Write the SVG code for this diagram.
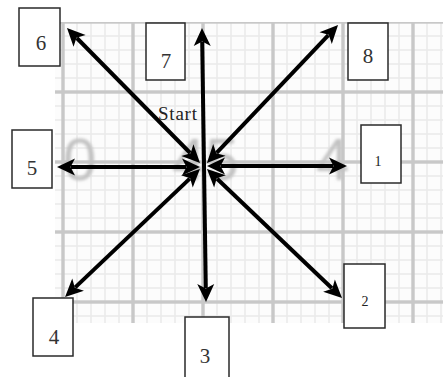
<svg xmlns="http://www.w3.org/2000/svg" width="443" height="377" viewBox="0 0 443 377">
<defs>
<pattern id="grid" patternUnits="userSpaceOnUse" x="63" y="22" width="70" height="70">
<rect width="70" height="70" fill="#fcfcfc"/>
<g stroke="#eaeaea" stroke-width="1.5">
<line x1="14" y1="0" x2="14" y2="70"/><line x1="28" y1="0" x2="28" y2="70"/><line x1="42" y1="0" x2="42" y2="70"/><line x1="56" y1="0" x2="56" y2="70"/>
<line x1="0" y1="14" x2="70" y2="14"/><line x1="0" y1="28" x2="70" y2="28"/><line x1="0" y1="42" x2="70" y2="42"/><line x1="0" y1="56" x2="70" y2="56"/>
</g>
<g fill="#c8c8c8">
<rect x="0" y="0" width="1.7" height="70"/><rect x="68.3" y="0" width="1.7" height="70"/>
<rect x="0" y="0" width="70" height="1.7"/><rect x="0" y="68.3" width="70" height="1.7"/>
</g>
</pattern>
<filter id="blur" x="-20%" y="-20%" width="140%" height="140%"><feGaussianBlur stdDeviation="1.8"/></filter>
<filter id="soft" x="0" y="0" width="100%" height="100%"><feGaussianBlur stdDeviation="0.6"/></filter>
<marker id="ah" markerUnits="userSpaceOnUse" markerWidth="40" markerHeight="40" refX="0" refY="0" orient="auto-start-reverse" overflow="visible">
<path d="M14,0 L-4,-8.5 L0.5,0 L-4,8.5 Z" fill="#000"/>
</marker>
</defs>
<style>
.box rect{fill:#fff;stroke:#2a2a2a;stroke-width:1.5}
.box text{font-family:"Liberation Serif",serif;font-size:21px;fill:#333;text-anchor:middle}
.box text.os{font-size:14px;fill:#222}
.arrow{stroke:#000;stroke-width:4;fill:none;marker-start:url(#ah);marker-end:url(#ah)}
.faded{font-family:"Liberation Sans",sans-serif;font-size:60px;fill:#c2c2c2;filter:url(#blur)}
</style>
<g id="background">
<rect x="55" y="22" width="388" height="301" fill="url(#grid)" filter="url(#soft)"/>
<text class="faded" x="63" y="180">0</text>
<text class="faded" x="172" y="180">45</text>
<text class="faded" x="316" y="180">4</text>
</g>
<text x="158" y="120" font-family="Liberation Serif, serif" font-size="19" fill="#222" textLength="39">Start</text>
<g id="connectors">
<line class="arrow" x1="221" y1="166" x2="333" y2="166"/>
<line class="arrow" x1="186" y1="167" x2="71" y2="167"/>
<line class="arrow" x1="202.2" y1="42" x2="205.8" y2="288"/>
<line class="arrow" x1="190.2" y1="153" x2="76.8" y2="38"/>
<line class="arrow" x1="216.6" y1="152.8" x2="328.4" y2="35.2"/>
<line class="arrow" x1="189.8" y1="178.6" x2="75.2" y2="287.4"/>
<line class="arrow" x1="217.1" y1="178.7" x2="331.9" y2="288.3"/>
</g>
<g id="n6" class="box"><rect x="19" y="8" width="41" height="58"/><text x="41" y="50">6</text></g>
<g id="n7" class="box"><rect x="146" y="23" width="39" height="57"/><text x="166" y="68">7</text></g>
<g id="n8" class="box"><rect x="348" y="23" width="40" height="57"/><text x="368" y="63">8</text></g>
<g id="n5" class="box"><rect x="12" y="130" width="40" height="58"/><text x="32" y="175">5</text></g>
<g id="n1" class="box"><rect x="361" y="125" width="40" height="58"/><text class="os" x="378" y="166">1</text></g>
<g id="n4" class="box"><rect x="33" y="298" width="40" height="58"/><text x="54" y="344">4</text></g>
<g id="n3" class="box"><rect x="185" y="317" width="44" height="70"/><text x="205" y="363">3</text></g>
<g id="n2" class="box"><rect x="344" y="264" width="41" height="64"/><text class="os" x="365" y="306">2</text></g>
</svg>
